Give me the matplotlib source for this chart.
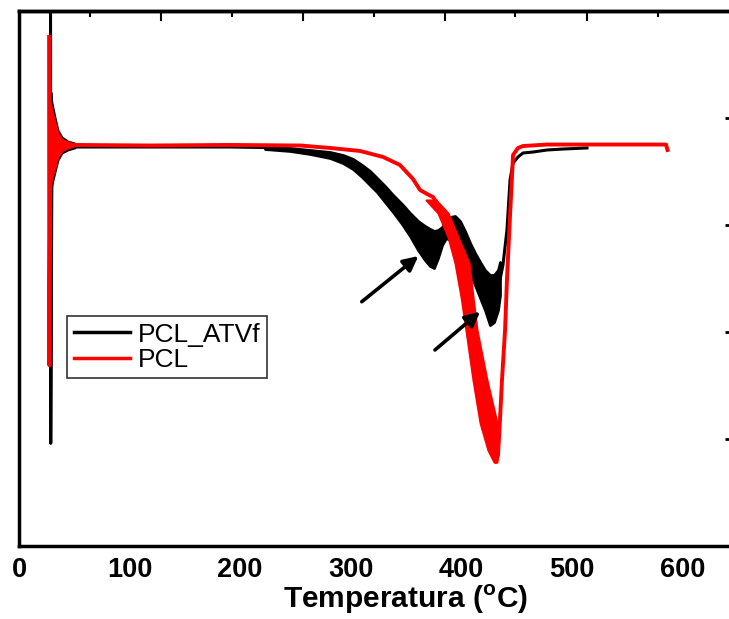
import matplotlib
matplotlib.use("Agg")
import matplotlib.pyplot as plt

plt.rcParams['font.family'] = ['Liberation Sans', 'DejaVu Sans']
plt.rcParams['mathtext.fontset'] = 'custom'
plt.rcParams['mathtext.rm'] = 'Liberation Sans:bold'
plt.rcParams['mathtext.bf'] = 'Liberation Sans:bold'

# ---------------- data (temperature in °C, DTG in arbitrary units) ----------------
# PCL (red) main trace
pcl_T = [27.2, 27.4, 28.5, 29.9, 32.6, 50.6, 118.5, 190.8, 254.2, 281.3, 308.4, 329.2,
         344.5, 356.3, 362.7, 369.0, 374.4, 380.8, 387.0, 392.5, 398.8, 403.3, 407.0,
         411.5, 417.0, 422.4, 428.6, 431.3, 433.2, 435.0, 436.8, 439.6, 441.3, 444.1,
         445.8, 446.8, 451.3, 455.8, 477.5, 525.5, 585.2, 586.5]
pcl_v = [0.757, -2.31, 0.075, -0.30, -0.252, -0.252, -0.257, -0.252, -0.257, -0.280,
         -0.308, -0.364, -0.439, -0.570, -0.673, -0.710, -0.738, -0.841, -0.935, -1.093,
         -1.280, -1.561, -1.841, -2.168, -2.542, -2.869, -3.150, -3.215, -3.150, -2.822,
         -2.449, -1.981, -1.514, -0.907, -0.561, -0.346, -0.280, -0.262, -0.248, -0.248,
         -0.248, -0.299]
# PCL ringing envelope after the start spike
pcl_ring_T = [28.0, 29.8, 32.6, 35.3, 38.9, 44.3, 50.6]
pcl_ring_hi = [0.168, 0.075, -0.037, -0.140, -0.196, -0.224, -0.243]
pcl_ring_lo = [-0.673, -0.561, -0.467, -0.364, -0.308, -0.280, -0.262]
# PCL noisy band on the steep descending branch
pcl_band_v = [-0.766, -0.888, -1.112, -1.355, -1.673, -1.981, -2.449, -2.850, -3.103, -3.215]
pcl_band_Tl = [368.1, 378.9, 388.0, 394.3, 399.8, 404.2, 410.6, 417.0, 424.1, 429.6]
pcl_band_Tr = [377.1, 388.0, 397.0, 407.0, 410.6, 414.2, 423.2, 432.3, 433.2, 432.3]

# PCL_ATVf (black)
atv_start_T = [28.5, 28.7, 29.8, 32.6, 50.6, 118.5, 190.8, 222.5]
atv_start_v = [1.5, -3.04, -0.30, -0.28, -0.271, -0.271, -0.271, -0.276]
atv_ring_T = [28.9, 29.8, 32.6, 35.3, 38.9, 44.3, 50.6]
atv_ring_hi = [0.243, 0.150, 0.009, -0.112, -0.178, -0.215, -0.234]
atv_ring_lo = [-0.766, -0.626, -0.505, -0.393, -0.327, -0.299, -0.280]
atv_band_T = [222.5, 245.1, 263.1, 281.3, 293.0, 302.1, 310.2, 317.4, 323.8, 331.0,
              338.3, 346.4, 353.6, 360.9, 367.1, 371.7, 375.3, 378.9, 382.6, 386.2,
              389.8, 394.3, 398.8, 403.3, 407.9, 412.4, 417.0, 421.4, 425.9, 429.6,
              433.2, 435.0]
atv_band_hi = [-0.262, -0.280, -0.299, -0.318, -0.346, -0.383, -0.439, -0.495, -0.561,
               -0.636, -0.720, -0.804, -0.888, -0.963, -1.009, -1.037, -1.056, -1.047,
               -1.019, -0.953, -0.925, -0.916, -0.963, -1.056, -1.168, -1.262, -1.346,
               -1.421, -1.467, -1.467, -1.421, -1.346]
atv_band_lo = [-0.290, -0.308, -0.336, -0.374, -0.421, -0.477, -0.551, -0.626, -0.692,
               -0.785, -0.879, -0.991, -1.103, -1.234, -1.327, -1.383, -1.402, -1.308,
               -1.187, -1.121, -1.140, -1.178, -1.234, -1.346, -1.449, -1.561, -1.682,
               -1.794, -1.935, -1.907, -1.794, -1.654]
atv_end_T = [435.0, 437.7, 441.3, 444.1, 446.8, 451.3, 455.8, 464.9, 477.5, 492.0, 513.7]
atv_end_v = [-1.514, -1.374, -1.047, -0.579, -0.421, -0.364, -0.327, -0.318, -0.299,
             -0.290, -0.280]

# arrows (tail -> head)
arrow1 = ((310.0, -1.717), (361.2, -1.290))
arrow2 = ((376.2, -2.168), (417.0, -1.810))

xticks = [0, 100, 200, 300, 400, 500, 600]
top_major = [128, 257, 385, 514]
top_minor = [64, 193, 321, 449, 578]
right_ticks = [0, -1, -2, -3]

# ---------------- figure ----------------
W, H = 729, 619
fig = plt.figure(figsize=(W / 100, H / 100), dpi=100)
ax = fig.add_axes([19 / W, (H - 546) / H, 774 / W, 535 / H])
ax.set_xlim(0, 700)
ax.set_ylim(-4.0, 1.0)

blk = 'black'
red = '#ff0000'

# black series
ax.plot(atv_start_T, atv_start_v, color=blk, lw=2.2, zorder=2)
ax.fill_between(atv_ring_T, atv_ring_lo, atv_ring_hi, color=blk, lw=1.2, zorder=2)
ax.fill_between(atv_band_T, atv_band_lo, atv_band_hi, color=blk, lw=2.0, zorder=2)
ax.plot(atv_end_T, atv_end_v, color=blk, lw=2.2, zorder=2)

# red series
ax.plot(pcl_T, pcl_v, color=red, lw=2.8, zorder=3)
ax.fill_between(pcl_ring_T, pcl_ring_lo, pcl_ring_hi, color=red, lw=1.2, zorder=3)
ax.fill_betweenx(pcl_band_v, pcl_band_Tl, pcl_band_Tr, color=red, lw=1.5, zorder=3)

# legend proxies
h1, = ax.plot([], [], color=blk, lw=2.5)
h2, = ax.plot([], [], color=red, lw=2.5)
leg = ax.legend([h1, h2], ['PCL_ATVf', 'PCL'], loc='upper left',
                bbox_to_anchor=(0.062, 0.430), borderaxespad=0,
                fontsize=19, frameon=True, fancybox=False, labelspacing=0.05,
                borderpad=0.25, handlelength=2.15, handletextpad=0.3)
leg.get_frame().set_edgecolor('black')
leg.get_frame().set_linewidth(1.2)

for (tail, head) in (arrow1, arrow2):
    ax.annotate('', xy=head, xytext=tail,
                arrowprops=dict(arrowstyle='-|>', color='black', lw=2.6,
                                mutation_scale=22, shrinkA=0, shrinkB=0))

# axes styling
for s in ax.spines.values():
    s.set_linewidth(2.5)
ax.set_xticks(xticks)
ax.set_xticklabels([str(t) for t in xticks], fontsize=19.5, fontweight='bold')
ax.tick_params(axis='x', bottom=True, length=0, pad=8)
ax.tick_params(axis='y', left=False, labelleft=False, right=False)
ax.set_yticks([])

# right-hand tick marks (the axis itself lies beyond the picture's edge)
axr = ax.secondary_yaxis(0.92)
axr.set_yticks(right_ticks)
axr.tick_params(axis='y', direction='in', length=4.5, width=2, labelright=False,
                right=True, left=False)
axr.spines['right'].set_visible(False)
axr.spines['left'].set_visible(False)

# top ticks
axt = ax.secondary_xaxis('top')
axt.set_xticks(top_major)
axt.set_xticks(top_minor, minor=True)
axt.tick_params(axis='x', which='major', direction='in', length=7, width=1.5, labeltop=False)
axt.tick_params(axis='x', which='minor', direction='in', length=4, width=1.5)
axt.spines['top'].set_linewidth(2.5)

ax.set_xlabel(r'Temperatura ($^{\mathbf{o}}$C)', fontsize=21.5, fontweight='bold')
ax.xaxis.label.set_va('baseline')
ax.xaxis.set_label_coords(0.5, -0.116)

fig.savefig('out.png', dpi=100)
